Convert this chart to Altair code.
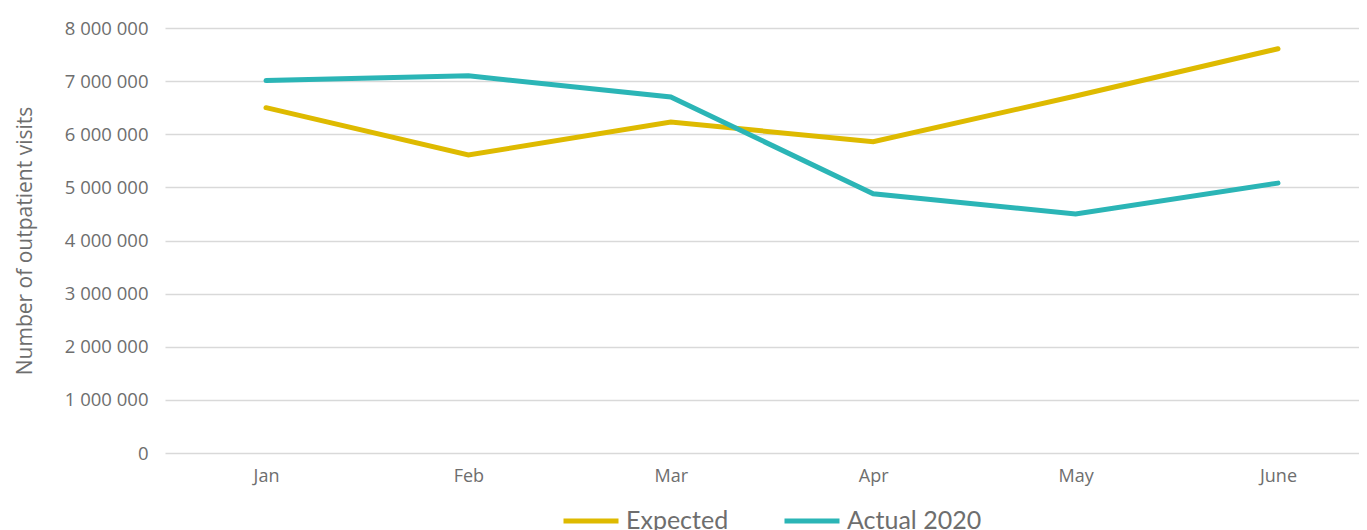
import altair as alt
import pandas as pd

months = ["Jan", "Feb", "Mar", "Apr", "May", "June"]
expected = [6500000, 5610000, 6230000, 5860000, 6720000, 7610000]
actual = [7010000, 7100000, 6700000, 4880000, 4500000, 5080000]
series_names = ["Expected", "Actual 2020"]
series_colors = ["#DEBA00", "#2BB5B6"]
y_ticks = [0, 1000000, 2000000, 3000000, 4000000, 5000000, 6000000, 7000000, 8000000]

rows = []
for m, e, a in zip(months, expected, actual):
    rows.append({"month": m, "series": series_names[0], "value": e})
    rows.append({"month": m, "series": series_names[1], "value": a})
df = pd.DataFrame(rows)

label_expr = "replace(replace(format(datum.value, ','), ',', ' '), ',', ' ')"

chart = alt.Chart(df).mark_line(strokeWidth=5, strokeCap="round", strokeJoin="miter").encode(
    x=alt.X("month:N", sort=months,
            scale=alt.Scale(type="point", padding=0.4496, align=0.555),
            axis=alt.Axis(title=None, labelAngle=0, domain=False, ticks=False,
                          grid=False, labelPadding=14, labelFontSize=18,
                          labelColor="#6e6e6e", labelFont="Open Sans")),
    y=alt.Y("value:Q",
            scale=alt.Scale(domain=[0, 8000000], nice=False),
            axis=alt.Axis(title="Number of outpatient visits",
                          values=y_ticks, labelOverlap=False,
                          labelExpr=label_expr, domain=False, ticks=False,
                          labelPadding=17, labelFontSize=18.5, labelColor="#6e6e6e",
                          labelFont="Open Sans", titleFont="Open Sans", titleFontSize=21,
                          titleFontWeight="normal", titleColor="#6e6e6e", titlePadding=29,
                          gridColor="#d9d9d9", gridWidth=1.5)),
    color=alt.Color("series:N", sort=series_names,
                    scale=alt.Scale(domain=series_names, range=series_colors),
                    legend=alt.Legend(title=None, orient="none", direction="horizontal",
                                      legendX=396, legendY=463,
                                      symbolType="stroke", symbolSize=3025,
                                      symbolStrokeWidth=5, labelFontSize=25,
                                      labelFont="Lato", labelColor="#6e6e6e",
                                      labelOffset=5, columnPadding=45, padding=0)),
).properties(
    width=1194, height=425,
    padding={"left": 6, "top": 11, "right": 0, "bottom": 0},
).configure_view(stroke=None)

chart.save("out.html", embed_options={"renderer": "svg", "actions": False})
